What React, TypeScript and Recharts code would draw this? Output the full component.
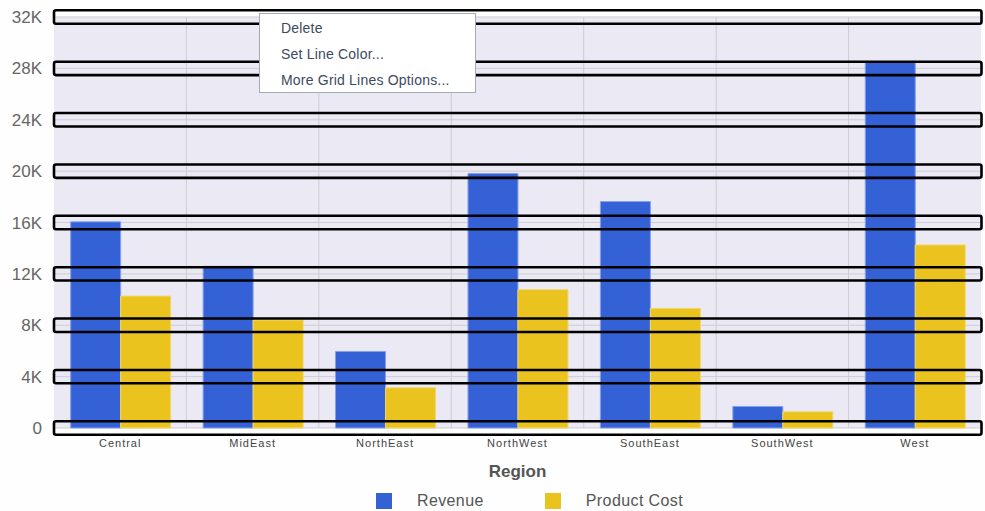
import React from 'react';
import { BarChart, Bar, XAxis, YAxis, CartesianGrid, ReferenceLine, Legend } from 'recharts';

const regions = ['Central', 'MidEast', 'NorthEast', 'NorthWest', 'SouthEast', 'SouthWest', 'West'];
const revenue = [16050, 12590, 5960, 19810, 17630, 1680, 28500];
const productCost = [10270, 8400, 3130, 10770, 9310, 1260, 14250];
const yTicks = [0, 4000, 8000, 12000, 16000, 20000, 24000, 28000, 32000];
const menuItems = ['Delete', 'Set Line Color...', 'More Grid Lines Options...'];

const data = regions.map((region, i) => ({
    region,
    revenue: revenue[i],
    cost: productCost[i],
}));

const BLUE = '#3461d6';
const GOLD = '#ebc31e';

const fmtK = (v: number) => (v === 0 ? '0' : `${v / 1000}K`);

// selection outline drawn around each horizontal grid line
const SelectedLine = (props: any) => {
    const { x1, x2, y1 } = props;
    if (x1 == null || y1 == null) return null;
    return (
        <rect
            x={x1}
            y={y1 - 6.7}
            width={x2 - x1 + 0.5}
            height={13.4}
            rx={2}
            fill="none"
            stroke="#000"
            strokeWidth={2.6}
        />
    );
};

const CustomLegend = () => {
    const items = [
        { name: 'Revenue', color: BLUE },
        { name: 'Product Cost', color: GOLD },
    ];
    return (
        <div style={{ display: 'flex', justifyContent: 'center', paddingLeft: 78, paddingTop: 10, fontFamily: 'Liberation Sans, Arial, sans-serif' }}>
            {items.map((it, i) => (
                <div key={it.name} style={{ display: 'flex', alignItems: 'center', marginLeft: i === 0 ? 0 : 61 }}>
                    <span style={{ display: 'inline-block', width: 16, height: 16, background: it.color, marginRight: 25 }} />
                    <span style={{ fontSize: 16, color: '#555', letterSpacing: 0.4, lineHeight: '16px' }}>{it.name}</span>
                </div>
            ))}
        </div>
    );
};

export default function App() {
    return (
        <div style={{ position: 'absolute', left: 0, top: 0, width: 985, height: 511, background: '#fdfefd', fontFamily: 'Liberation Sans, Arial, sans-serif' }}>
            <BarChart
                width={985}
                height={511}
                data={data}
                margin={{ top: 17, right: 4, bottom: 0, left: 0 }}
                barCategoryGap="12.6%"
                barGap={0}
            >
                <CartesianGrid
                    fill="#ebe9f4"
                    stroke="#cdcdd2"
                    verticalCoordinatesGenerator={({ offset }: any) =>
                        regions.slice(1).map((_, i) => offset.left + ((i + 1) * offset.width) / regions.length)
                    }
                />
                <XAxis
                    dataKey="region"
                    axisLine={false}
                    tickLine={false}
                    height={55}
                    tickMargin={5}
                    tick={{ fontSize: 11, fill: '#444', letterSpacing: 1 }}
                    label={{ value: 'Region', position: 'insideBottom', offset: 6, style: { fontSize: 17, fontWeight: 'bold', fill: '#555' } }}
                />
                <YAxis
                    domain={[0, 32000]}
                    ticks={yTicks}
                    tickFormatter={fmtK}
                    axisLine={false}
                    tickLine={false}
                    tickSize={0}
                    tickMargin={12}
                    width={54}
                    interval={0}
                    tick={{ fontSize: 17, fill: '#666' }}
                />
                <Legend verticalAlign="bottom" height={28} content={<CustomLegend />} />
                <Bar dataKey="revenue" name="Revenue" fill={BLUE} stroke="#86a0ea" strokeWidth={1} isAnimationActive={false} />
                <Bar dataKey="cost" name="Product Cost" fill={GOLD} stroke="#f2d76a" strokeWidth={1} isAnimationActive={false} />
                {yTicks.map((t) => (
                    <ReferenceLine key={t} y={t} shape={SelectedLine} />
                ))}
            </BarChart>
            <div
                style={{
                    position: 'absolute',
                    left: 259,
                    top: 13,
                    width: 217,
                    height: 80,
                    background: '#fff',
                    border: '1px solid #a3abb5',
                    boxSizing: 'border-box',
                    paddingTop: 1,
                }}
            >
                {menuItems.map((m) => (
                    <div key={m} style={{ height: 26, lineHeight: '26px', paddingLeft: 21, fontSize: 14, letterSpacing: 0.2, color: '#3c4a5e' }}>
                        {m}
                    </div>
                ))}
            </div>
        </div>
    );
}
